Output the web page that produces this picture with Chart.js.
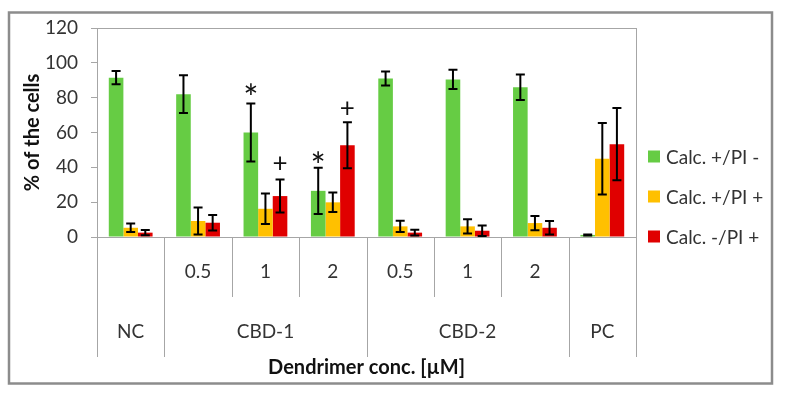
<!DOCTYPE html>
<html lang="en">
<head>
    <meta charset="UTF-8">
    <title>Dendrimer conc. vs cells</title>
    <script src="https://cdn.jsdelivr.net/npm/chart.js"></script>
    <style>
        html, body { margin: 0; padding: 0; background: #fff; }
    </style>
</head>
<body>
    <canvas id="myChart" width="787" height="393"></canvas>

    <script>
        // Categories: group name + concentration label per bar cluster
        const groupNames = ['NC', 'CBD-1', 'CBD-1', 'CBD-1', 'CBD-2', 'CBD-2', 'CBD-2', 'PC'];
        const concLabels = ['', '0.5', '1', '2', '0.5', '1', '2', ''];

        const seriesNames = ['Calc. +/PI -', 'Calc. +/PI +', 'Calc. -/PI +'];
        const seriesColors = ['#66CC44', '#FFC000', '#E00000'];

        // Mean % of the cells
        const liveValues  = [91.5, 82, 60, 26.5, 91, 90.5, 86, 1.2];
        const earlyValues = [5.3, 9.2, 16.2, 19.9, 6.1, 6.1, 8, 44.9];
        const lateValues  = [2.5, 8.2, 23.5, 52.7, 2.5, 3.6, 5.3, 53.3];

        // +/- error
        const liveErrors  = [3.8, 10.8, 16.7, 13.3, 4, 5.5, 7.3, 0.3];
        const earlyErrors = [2.5, 7.7, 8.8, 5.6, 3.2, 4.1, 4.1, 20.5];
        const lateErrors  = [1.5, 4.4, 9.5, 13.2, 1.7, 3, 3.9, 20.7];

        // Significance marks (value where the symbol sits)
        const starMarks = [null, null, 85, 46, null, null, null, null]; // above green bars
        const plusMarks = [null, null, 42.5, 73.8, null, null, null, null]; // above red bars

        const yMin = 0, yMax = 120, yStep = 20;

        const axisGrey = '#A6A6A6';
        const textColor = '#333333';

        // outer frame + error bars + marks + two-level x axis + legend
        const decorations = {
            id: 'decorations',
            beforeDraw(chart) {
                const ctx = chart.ctx;
                ctx.save();
                ctx.fillStyle = '#fff';
                ctx.fillRect(0, 0, chart.width, chart.height);
                ctx.strokeStyle = '#8C8C8C';
                ctx.lineWidth = 2.5;
                ctx.strokeRect(9, 12.5, 763, 371);
                ctx.restore();
            },
            afterDatasetsDraw(chart) {
                const ctx = chart.ctx;
                const y = chart.scales.y;
                ctx.save();
                ctx.strokeStyle = '#000';
                ctx.lineWidth = 2;
                chart.data.datasets.forEach((ds, di) => {
                    chart.getDatasetMeta(di).data.forEach((bar, i) => {
                        const v = ds.data[i], e = ds.errors[i];
                        const top = y.getPixelForValue(v + e);
                        const bot = y.getPixelForValue(Math.max(v - e, 0));
                        ctx.beginPath();
                        ctx.moveTo(bar.x, top); ctx.lineTo(bar.x, bot);
                        ctx.moveTo(bar.x - 4.5, top); ctx.lineTo(bar.x + 4.5, top);
                        ctx.moveTo(bar.x - 4.5, bot); ctx.lineTo(bar.x + 4.5, bot);
                        ctx.stroke();
                    });
                });

                // significance symbols, vertically centred on their value
                const drawMark = (sym, size, marks, di) => {
                    ctx.font = size + 'px Lato';
                    ctx.fillStyle = '#111';
                    ctx.textAlign = 'center';
                    ctx.textBaseline = 'alphabetic';
                    const m = ctx.measureText(sym);
                    const shift = (m.actualBoundingBoxAscent - m.actualBoundingBoxDescent) / 2;
                    const bars = chart.getDatasetMeta(di).data;
                    marks.forEach((v, i) => {
                        if (v === null) return;
                        ctx.fillText(sym, bars[i].x, y.getPixelForValue(v) + shift);
                    });
                };
                drawMark('*', 36, starMarks, 0);
                drawMark('+', 26, plusMarks, 2);
                ctx.restore();
            },
            afterDraw(chart) {
                const {ctx, chartArea: a, scales: {x}} = chart;
                const n = concLabels.length;
                const edge = i => i === 0 ? a.left : i === n ? a.right
                    : (x.getPixelForValue(i - 1) + x.getPixelForValue(i)) / 2;

                ctx.save();
                ctx.strokeStyle = axisGrey;
                ctx.lineWidth = 1;
                ctx.strokeRect(Math.round(a.left) + 0.5, Math.round(a.top) + 0.5,
                    Math.round(a.width), Math.round(a.height));

                // separators: short inside a group, long between groups
                for (let i = 0; i <= n; i++) {
                    const inside = i > 0 && i < n && groupNames[i] === groupNames[i - 1];
                    const px = Math.round(edge(i)) + 0.5;
                    ctx.beginPath();
                    ctx.moveTo(px, a.bottom);
                    ctx.lineTo(px, a.bottom + (inside ? 60 : 120));
                    ctx.stroke();
                }

                ctx.fillStyle = textColor;
                ctx.font = '19px Lato';
                ctx.textAlign = 'center';
                ctx.textBaseline = 'middle';
                concLabels.forEach((lab, i) => {
                    if (lab) ctx.fillText(lab, x.getPixelForValue(i), a.bottom + 35);
                });
                let start = 0;
                for (let i = 1; i <= n; i++) {
                    if (i === n || groupNames[i] !== groupNames[start]) {
                        ctx.fillText(groupNames[start], (edge(start) + edge(i)) / 2, a.bottom + 95);
                        start = i;
                    }
                }

                // legend
                const mid = chart.height / 2;
                chart.data.datasets.forEach((ds, i) => {
                    const cy = mid + (i - 1) * 40;
                    ctx.fillStyle = ds.backgroundColor;
                    ctx.fillRect(a.right + 12, cy - 6, 12, 12);
                    ctx.fillStyle = textColor;
                    ctx.textAlign = 'left';
                    ctx.fillText(ds.label, a.right + 30, cy + 1);
                });
                ctx.restore();
            }
        };

        Chart.defaults.font.family = 'Lato';
        Chart.defaults.color = textColor;

        const ctx = document.getElementById('myChart').getContext('2d');
        new Chart(ctx, {
            type: 'bar',
            data: {
                labels: concLabels.map((c, i) => groupNames[i] + ' ' + c),
                datasets: [
                    { label: seriesNames[0], data: liveValues, errors: liveErrors, backgroundColor: seriesColors[0] },
                    { label: seriesNames[1], data: earlyValues, errors: earlyErrors, backgroundColor: seriesColors[1] },
                    { label: seriesNames[2], data: lateValues, errors: lateErrors, backgroundColor: seriesColors[2] }
                ]
            },
            options: {
                responsive: false,
                animation: false,
                barPercentage: 1,
                categoryPercentage: 0.65,
                layout: { padding: { top: 28, right: 151, bottom: 0, left: 0 } },
                plugins: {
                    legend: { display: false },
                    tooltip: { enabled: false }
                },
                scales: {
                    x: {
                        grid: { display: false },
                        border: { display: false },
                        ticks: { display: false },
                        title: {
                            display: true,
                            text: 'Dendrimer conc. [µM]',
                            font: { size: 20, weight: 'bold' },
                            color: '#111',
                            padding: { top: 0, bottom: 13 }
                        },
                        afterFit: s => { s.height = 156; }
                    },
                    y: {
                        min: yMin,
                        max: yMax,
                        ticks: { stepSize: yStep, font: { size: 19 }, padding: 13, color: textColor },
                        grid: { drawOnChartArea: false, tickLength: 6, color: axisGrey },
                        border: { display: false },
                        title: {
                            display: true,
                            text: '% of the cells',
                            font: { size: 20, weight: 'bold' },
                            color: '#111',
                            padding: { top: 21, bottom: 0 }
                        },
                        afterFit: s => { s.width = 97; }
                    }
                }
            },
            plugins: [decorations]
        });
    </script>
</body>
</html>
